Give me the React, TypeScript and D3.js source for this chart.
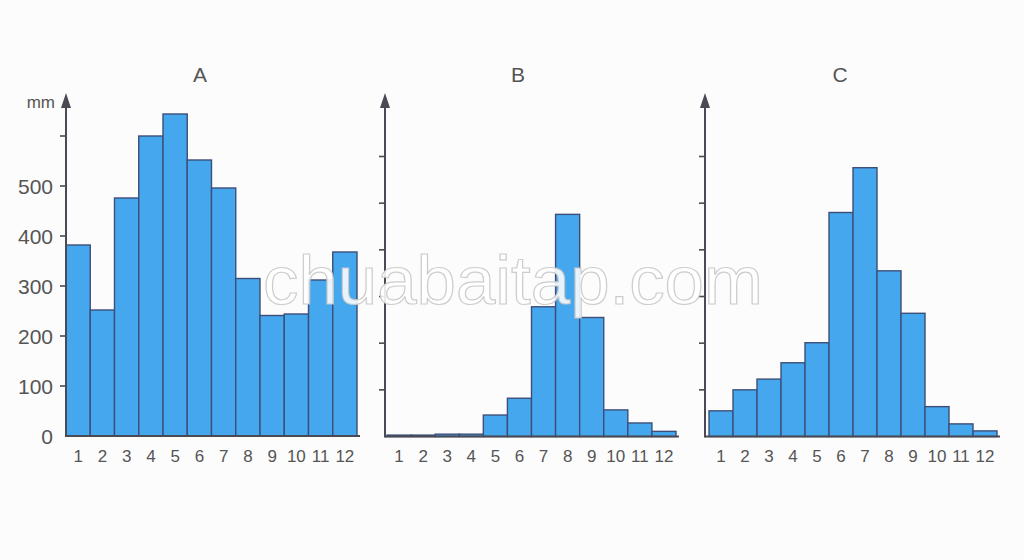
import React from "react";
import * as d3 from "d3";

const months = ["1", "2", "3", "4", "5", "6", "7", "8", "9", "10", "11", "12"];
const rainA = [382, 252, 476, 600, 644, 552, 496, 315, 241, 244, 312, 368];
const rainB = [3, 3, 5, 5, 46, 82, 278, 476, 255, 57, 29, 11];
const rainC = [55, 100, 123, 158, 201, 480, 576, 355, 264, 64, 27, 12];
const titles = ["A", "B", "C"];
const tickValues = [0, 100, 200, 300, 400, 500, 600];
const tickLabels = ["0", "100", "200", "300", "400", "500", ""];
const unitLabel = "mm";
const watermark = "chuabaitap.com";

const W = 1024;
const H = 560;

const panels = [
  { title: titles[0], data: rainA, axisX: 66, x0: 66, x1: 357, y0: 436, y600: 136, labels: true, titleX: 200 },
  { title: titles[1], data: rainB, axisX: 385, x0: 387, x1: 676, y0: 436.5, y600: 156.5, labels: false, titleX: 518 },
  { title: titles[2], data: rainC, axisX: 705, x0: 709, x1: 997, y0: 436.5, y600: 156.5, labels: false, titleX: 840 },
];

const FONT = "'Liberation Sans', Arial, sans-serif";
const BAR_FILL = "#45a7ee";
const BAR_STROKE = "#3d4f78";
const AXIS = "#4a4a55";
const TEXT = "#555";

function Panel({ p }: { p: (typeof panels)[number] }) {
  const x = d3.scaleBand<string>().domain(months).range([p.x0, p.x1]).paddingInner(0).paddingOuter(0);
  const y = d3.scaleLinear().domain([0, 600]).range([p.y0, p.y600]);
  const arrowTip = 93;
  return (
    <g>
      <text x={p.titleX} y={82} fontSize={21} fill={TEXT} textAnchor="middle" fontFamily={FONT}>
        {p.title}
      </text>
      {p.data.map((v, i) => (
        <rect
          key={i}
          x={x(months[i])!}
          y={y(v)}
          width={x.bandwidth()}
          height={y(0) - y(v)}
          fill={BAR_FILL}
          stroke={BAR_STROKE}
          strokeWidth={1.4}
        />
      ))}
      <line x1={p.axisX} x2={p.x1 + 3} y1={y(0)} y2={y(0)} stroke={AXIS} strokeWidth={2.2} />
      <line x1={p.axisX} x2={p.axisX} y1={y(0) + 1} y2={arrowTip + 8} stroke={AXIS} strokeWidth={2} />
      <path
        d={`M${p.axisX},${arrowTip} L${p.axisX - 5},${arrowTip + 15} L${p.axisX + 5},${arrowTip + 15} Z`}
        fill={AXIS}
      />
      {tickValues.slice(1).map((t) => (
        <line key={t} x1={p.axisX - 6} x2={p.axisX} y1={y(t)} y2={y(t)} stroke={AXIS} strokeWidth={1.6} />
      ))}
      {p.labels &&
        tickValues.map((t, i) =>
          tickLabels[i] ? (
            <text
              key={t}
              x={p.axisX - 13}
              y={y(t)}
              dy="0.36em"
              fontSize={21}
              fill={TEXT}
              textAnchor="end"
              fontFamily={FONT}
            >
              {tickLabels[i]}
            </text>
          ) : null
        )}
      {p.labels && (
        <text x={55} y={103} dy="0.3em" fontSize={17} fill={TEXT} textAnchor="end" fontFamily={FONT}>
          {unitLabel}
        </text>
      )}
      {months.map((m) => (
        <text
          key={m}
          x={x(m)! + x.bandwidth() / 2}
          y={456}
          dy="0.35em"
          fontSize={17}
          fill={TEXT}
          textAnchor="middle"
          fontFamily={FONT}
        >
          {m}
        </text>
      ))}
    </g>
  );
}

export default function App() {
  return (
    <svg
      width={W}
      height={H}
      viewBox={`0 0 ${W} ${H}`}
      style={{ position: "absolute", left: 0, top: 0, display: "block" }}
    >
      <rect x={0} y={0} width={W} height={H} fill="#fcfcfc" />
      {panels.map((p) => (
        <Panel key={p.title} p={p} />
      ))}
      <text
        x={263}
        y={304}
        fontSize={68}
        textLength={500}
        lengthAdjust="spacingAndGlyphs"
        fill="rgba(255,255,255,0.88)"
        stroke="rgba(200,200,200,0.9)"
        strokeWidth={1.2}
        fontFamily={FONT}
      >
        {watermark}
      </text>
    </svg>
  );
}
